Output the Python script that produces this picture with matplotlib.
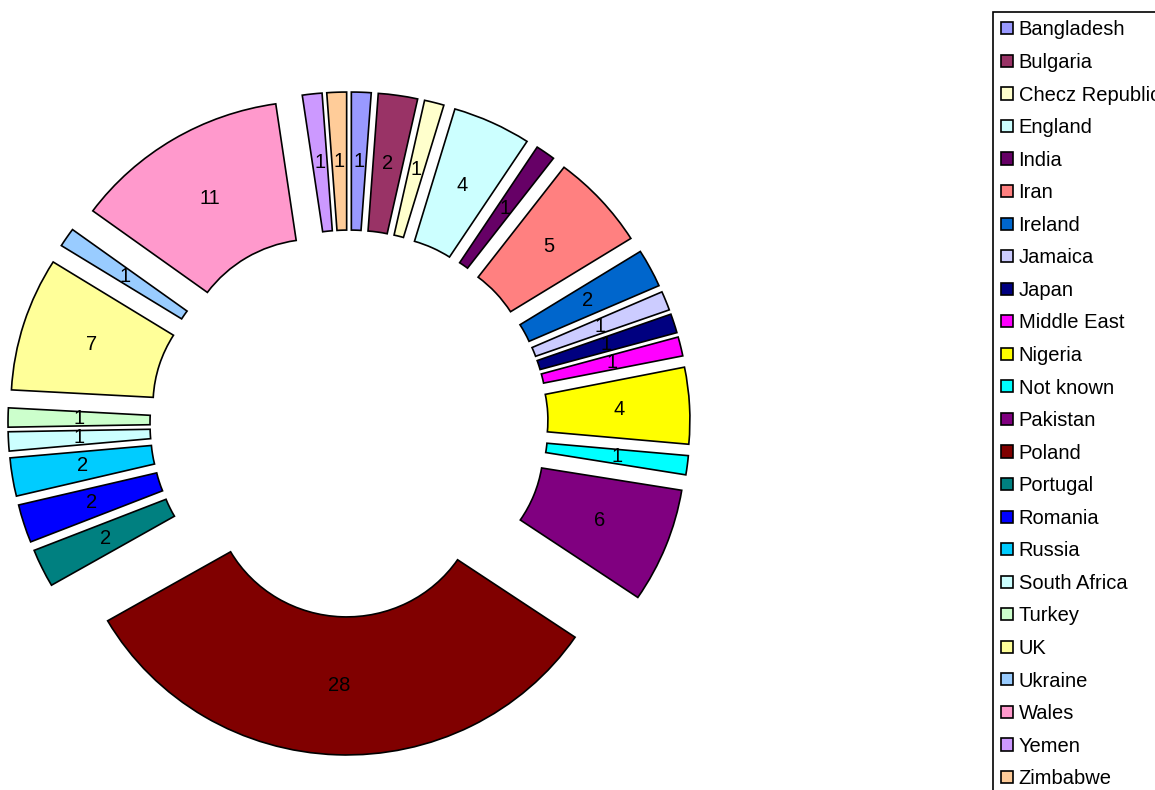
import matplotlib
matplotlib.use("Agg")
import matplotlib.pyplot as plt
from matplotlib.patches import Patch

categories = ["Bangladesh", "Bulgaria", "Checz Republic", "England", "India", "Iran",
              "Ireland", "Jamaica", "Japan", "Middle East", "Nigeria", "Not known",
              "Pakistan", "Poland", "Portugal", "Romania", "Russia", "South Africa",
              "Turkey", "UK", "Ukraine", "Wales", "Yemen", "Zimbabwe"]
values = [1, 2, 1, 4, 1, 5, 2, 1, 1, 1, 4, 1, 6, 28, 2, 2, 2, 1, 1, 7, 1, 11, 1, 1]
colors = ["#9999FF", "#993366", "#FFFFCC", "#CCFFFF", "#660066", "#FF8080",
          "#0066CC", "#CCCCFF", "#000080", "#FF00FF", "#FFFF00", "#00FFFF",
          "#800080", "#800000", "#008080", "#0000FF", "#00CCFF", "#CCFFFF",
          "#CCFFCC", "#FFFF99", "#99CCFF", "#FF99CC", "#CC99FF", "#FFCC99"]

plt.rcParams['font.family'] = ['Liberation Sans', 'DejaVu Sans']

W, H = 1155, 790
fig = plt.figure(figsize=(W / 100, H / 100), dpi=100)

# geometry (pixels)
cx, cy = 349, 423.5
sx, sy = 276.0, 268.3
xl, yl = 1.26, 1.3
ax = fig.add_axes([(cx - xl * sx) / W, (H - cy - yl * sy) / H,
                   2 * xl * sx / W, 2 * yl * sy / H])

total = sum(values)
explode = [0.2355] * len(values)
wedges, texts, autotexts = ax.pie(
    values, colors=colors, explode=explode, startangle=90, counterclock=False,
    radius=1.0, wedgeprops=dict(width=0.5145, edgecolor="black", linewidth=1.2),
    autopct=lambda p: f"{round(p * total / 100)}", pctdistance=0.743,
    textprops=dict(fontsize=14.5, color="black"))

ax.set_aspect('auto')
ax.set_xlim(-xl, xl)
ax.set_ylim(-yl, yl)
ax.axis('off')

handles = [Patch(facecolor=c, edgecolor="black", linewidth=1.2) for c in colors]
leg = fig.legend(handles, categories, loc="upper left",
                 bbox_to_anchor=(993 / W, 1 - 12 / H), borderaxespad=0,
                 fontsize=14.5, frameon=True, fancybox=False, shadow=False,
                 handlelength=0.55, handleheight=0.55, handletextpad=0.3,
                 borderpad=0.42, labelspacing=0.673)
leg.get_frame().set_edgecolor("black")
leg.get_frame().set_linewidth(1.2)
leg.get_frame().set_alpha(1)

fig.savefig("out.png", dpi=100)
